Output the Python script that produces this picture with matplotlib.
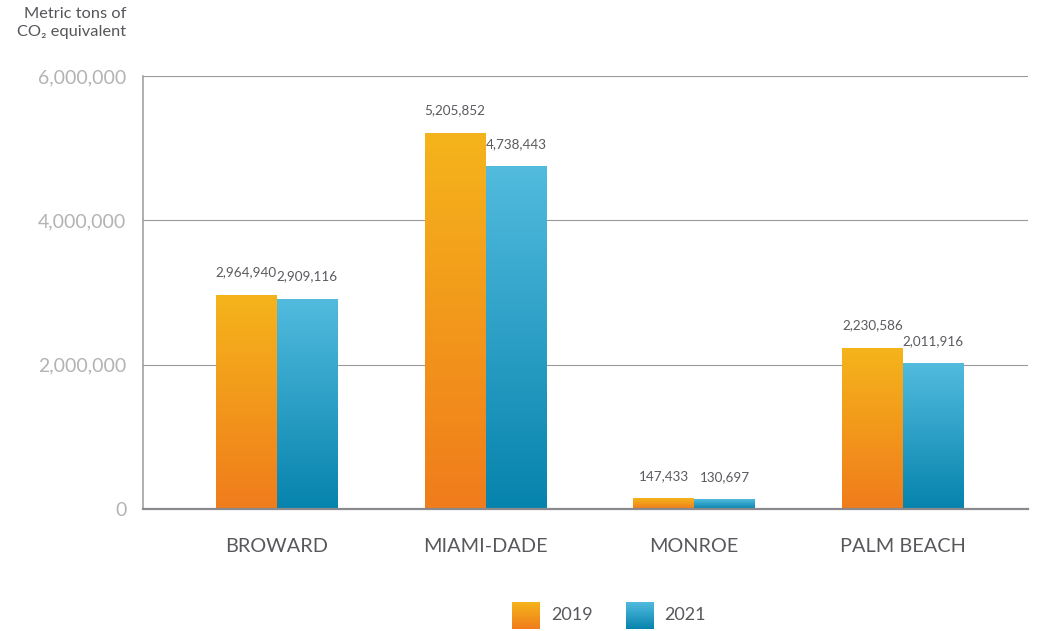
import matplotlib
matplotlib.use("Agg")
import matplotlib.pyplot as plt
import numpy as np
from matplotlib.colors import LinearSegmentedColormap

plt.rcParams["font.family"] = ["Lato", "DejaVu Sans"]

counties = ["BROWARD", "MIAMI-DADE", "MONROE", "PALM BEACH"]
years = ["2019", "2021"]
emissions_2019 = [2964940, 5205852, 147433, 2230586]
emissions_2021 = [2909116, 4738443, 130697, 2011916]
y_ticks = [0, 2000000, 4000000, 6000000]

orange = LinearSegmentedColormap.from_list("orange", ["#f07c1b", "#f5b41c"])
blue = LinearSegmentedColormap.from_list("blue", ["#0683ad", "#52bbde"])

fig = plt.figure(figsize=(10.42, 6.31), dpi=100)
ax = fig.add_axes([0.1372, 0.1933, 0.8494, 0.6863])

width = 0.292
grad = np.linspace(0, 1, 256).reshape(-1, 1)


def gradient_bar(ax, x, h, cmap):
    ax.imshow(grad, cmap=cmap, origin="lower", aspect="auto",
              extent=(x, x + width, 0, h), zorder=2, interpolation="bicubic")


x = np.arange(len(counties))
for i in x:
    for vals, cmap, shift in ((emissions_2019, orange, -width), (emissions_2021, blue, 0)):
        v = vals[i]
        gradient_bar(ax, i + shift, v, cmap)
        ax.annotate(f"{v:,}", (i + shift + width / 2, v), xytext=(0, 12),
                    textcoords="offset points", ha="center", va="bottom",
                    fontsize=9.7, color="#5a5a5f")

ax.set_xlim(-0.642, 3.6)
ax.set_ylim(0, 6000000)
ax.set_yticks(y_ticks)
ax.set_yticklabels([f"{t:,}" for t in y_ticks], fontsize=14, color="#b3b3b3")
ax.set_xticks(x)
ax.set_xticklabels(counties, fontsize=14.3, color="#58585c")
ax.tick_params(axis="both", length=0)
ax.tick_params(axis="y", pad=12)
ax.tick_params(axis="x", pad=21)
ax.grid(axis="y", color="#9a9a9a", linewidth=0.8, zorder=1)
ax.set_axisbelow(True)
for side in ("top", "right"):
    ax.spines[side].set_visible(False)
ax.spines["left"].set_color("#9a9a9e")
ax.spines["left"].set_linewidth(1.1)
ax.spines["bottom"].set_color("#8a8a8e")
ax.spines["bottom"].set_linewidth(1.6)
ax.spines["bottom"].set_zorder(3)

fig.text(126 / 1042, 1 - 7 / 631, "Metric tons of\nCO\u2082 equivalent", ha="right", va="top",
         fontsize=11.8, color="#55555a", linespacing=1.35)

# legend swatches with the same gradients
for name, cmap, left, text_x in ((years[0], orange, 512, 551), (years[1], blue, 626, 664)):
    sw = fig.add_axes([left / 1042, 1 - 629 / 631, 28 / 1042, 27 / 631])
    sw.imshow(grad, cmap=cmap, origin="lower", aspect="auto", interpolation="bicubic")
    sw.set_axis_off()
    fig.text(text_x / 1042, 1 - 615 / 631, name, ha="left", va="center",
             fontsize=13, color="#58585c")

fig.savefig("out.png", dpi=100)
